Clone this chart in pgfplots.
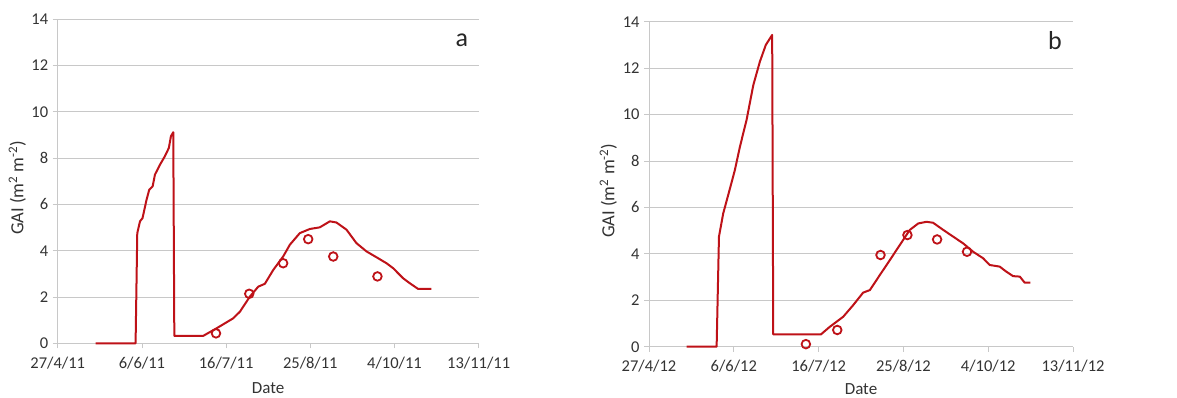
\documentclass[border=0pt]{standalone}
\usepackage{pgfplots}
\pgfplotsset{compat=1.18}
\usepackage{fontspec}
\setmainfont{Carlito}
\definecolor{simred}{RGB}{190,18,24}
\definecolor{gridgray}{RGB}{200,200,200}
\pgfplotsset{
  gaistyle/.style={
    scale only axis,
    width=421pt, height=324pt,
    xmin=0, xmax=200, ymin=0, ymax=14,
    xtick={0,40,80,120,160,200},
    ytick={0,2,...,14},
    axis x line*=bottom, axis y line*=left,
    axis line style={gridgray, line width=0.8pt},
    x axis line style={-}, y axis line style={-},
    ymajorgrids, major grid style={gridgray, line width=0.9pt},
    tick style={gridgray, line width=0.8pt},
    tick align=outside, major tick length=5pt,
    ticklabel style={font=\fontsize{16.5}{18}\selectfont, text=black!80},
    xticklabel style={yshift=-5pt},
    yticklabel style={xshift=-1pt},
    /pgf/number format/assume math mode=true,
    xlabel={Date}, ylabel={GAI (m\textsuperscript{2} m\textsuperscript{-2})},
    xlabel style={font=\fontsize{17}{19}\selectfont, text=black!80, at={(axis description cs:0.5,0)}, anchor=center, yshift=-45pt},
    ylabel style={font=\fontsize{18.5}{20}\selectfont, text=black!80, at={(axis description cs:-0.096,0.48)}, anchor=center},
    clip=false,
  },
  simline/.style={simred, line width=2pt, no marks, line join=round},
  obsmark/.style={only marks, mark=o, mark size=4.3pt, mark options={simred, line width=1.8pt}},
}
\begin{document}
\begin{tikzpicture}[x=1pt,y=1pt]
\useasboundingbox (0,0) rectangle (1177,397);
% Panel a
\begin{axis}[gaistyle, at={(57.7pt,53.7pt)}, anchor=south west,
  xticklabels={27/4/11,6/6/11,16/7/11,25/8/11,4/10/11,13/11/11}]
\addplot[simline] coordinates {
(18,0) (37.0,0) (37.8,4.76) (39.1,5.27) (40.3,5.41) (42.2,6.2) (43.5,6.64) (45.1,6.78)
(46.2,7.29) (48.6,7.72) (50.9,8.08) (52.8,8.44) (53.8,8.95) (54.9,9.12) (55.4,0.32)
(69.1,0.32) (75.5,0.65) (83.4,1.08) (86.6,1.37) (91.3,2.02) (95.3,2.45) (98.4,2.57)
(102.4,3.17) (107.1,3.75) (110.3,4.26) (115.0,4.76) (119.8,4.94) (124.5,5.01) (129.3,5.27)
(132.4,5.22) (137.2,4.91) (141.9,4.33) (146.7,3.97) (151.4,3.72) (156.2,3.46) (159.3,3.25)
(164.1,2.81) (167.2,2.60) (171.2,2.35) (177.5,2.35)
};
\addplot[obsmark] coordinates {
(75.2,0.43) (91.0,2.14) (107.1,3.46) (119.0,4.50) (130.9,3.75) (151.9,2.89)
};
\node[font=\fontsize{26}{28}\selectfont, text=black!85] at (axis cs:192,13.1) {a};
\end{axis}
% Panel b
\begin{axis}[gaistyle, at={(649pt,50.3pt)}, anchor=south west, width=424pt, height=325pt,
  xticklabels={27/4/12,6/6/12,16/7/12,25/8/12,4/10/12,13/11/12},
  xlabel style={yshift=3pt}]
\addplot[simline] coordinates {
(17.8,0) (31.9,0) (33.0,4.74) (35.0,5.74) (38.2,6.82) (40.5,7.61) (42.9,8.62) (46.0,9.76)
(49.2,11.27) (52.3,12.28) (55.1,13.0) (58.1,13.43) (58.6,0.53) (81.1,0.53) (85.3,0.86)
(91.6,1.29) (96.3,1.79) (101.0,2.33) (104.2,2.44) (108.9,3.09) (113.6,3.73) (118.3,4.38)
(123.0,5.03) (127.0,5.31) (130.9,5.38) (134.0,5.34) (138.8,5.03) (143.5,4.74) (148.2,4.45)
(152.9,4.09) (157.6,3.81) (160.7,3.52) (165.4,3.45) (168.6,3.23) (171.7,3.04) (174.9,3.02)
(177.2,2.76) (179.9,2.76)
};
\addplot[obsmark] coordinates {
(74.0,0.11) (88.8,0.72) (109.2,3.95) (121.9,4.81) (135.9,4.62) (150.0,4.09)
};
\node[font=\fontsize{26}{28}\selectfont, text=black!85] at (axis cs:191.5,13.2) {b};
\end{axis}
\end{tikzpicture}
\end{document}
